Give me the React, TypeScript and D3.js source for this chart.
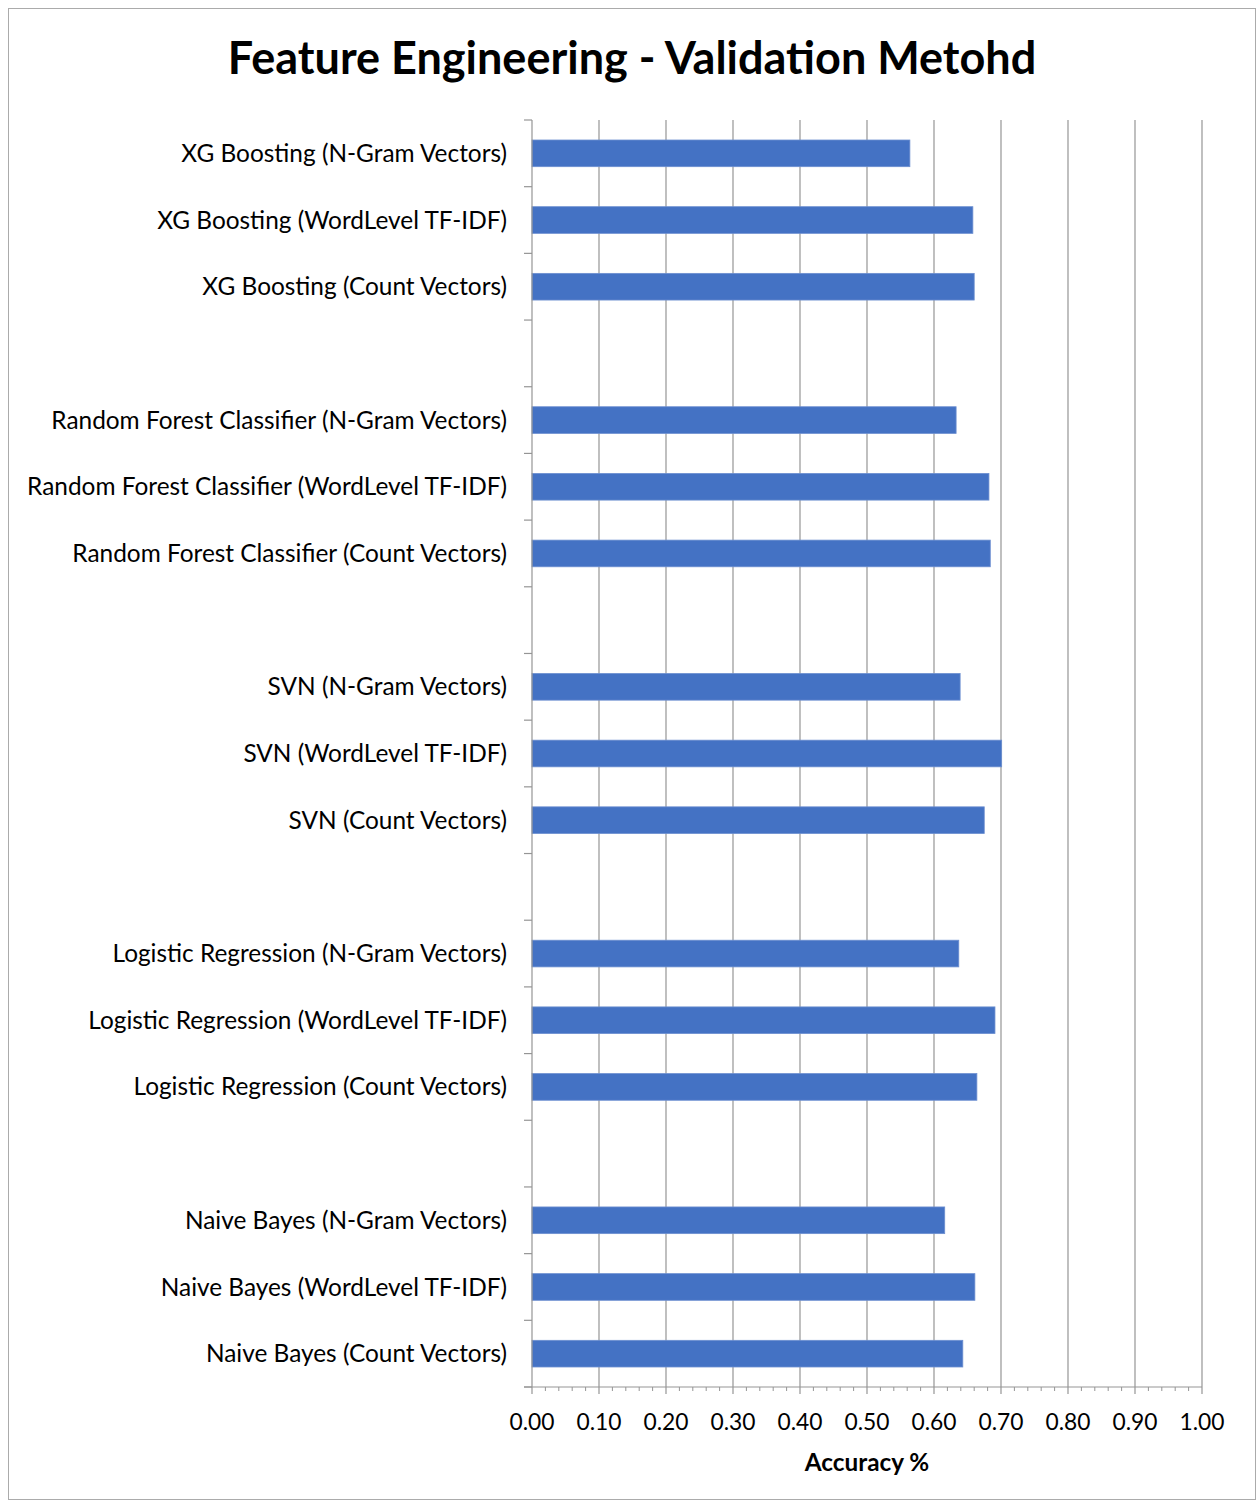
import React from 'react';
import * as d3 from 'd3';

// bars listed top to bottom; null = empty spacer slot between model groups
const labels = [
  'XG Boosting (N-Gram Vectors)',
  'XG Boosting (WordLevel TF-IDF)',
  'XG Boosting (Count Vectors)',
  null,
  'Random Forest Classifier (N-Gram Vectors)',
  'Random Forest Classifier (WordLevel TF-IDF)',
  'Random Forest Classifier (Count Vectors)',
  null,
  'SVN (N-Gram Vectors)',
  'SVN (WordLevel TF-IDF)',
  'SVN (Count Vectors)',
  null,
  'Logistic Regression (N-Gram Vectors)',
  'Logistic Regression (WordLevel TF-IDF)',
  'Logistic Regression (Count Vectors)',
  null,
  'Naive Bayes (N-Gram Vectors)',
  'Naive Bayes (WordLevel TF-IDF)',
  'Naive Bayes (Count Vectors)',
];
const values = [
  0.564, 0.658, 0.660, null,
  0.633, 0.682, 0.684, null,
  0.639, 0.701, 0.675, null,
  0.637, 0.691, 0.664, null,
  0.616, 0.661, 0.643,
];
const majorTicks = [0, 0.1, 0.2, 0.3, 0.4, 0.5, 0.6, 0.7, 0.8, 0.9, 1.0];

const W = 1258, H = 1501;
const left = 532, right = 1202, top = 120, bottom = 1387;
const FONT = 'Lato, "Liberation Sans", sans-serif';
const GRID = '#959595';

export default function App() {
  const keys = labels.map((l, i) => l ?? `gap${i}`);
  const x = d3.scaleLinear().domain([0, 1]).range([left, right]);
  const y = d3.scaleBand<string>().domain(keys).range([top, bottom]).paddingInner(0.6).paddingOuter(0.3);
  const step = y.step();
  const minorTicks = d3.range(0, 50).map(i => i / 50).filter(v => Math.round(v * 50) % 5 !== 0);

  return (
    <svg width={W} height={H} style={{ position: 'absolute', left: 0, top: 0, background: '#fff' }}>
      <rect x={8.5} y={8.5} width={1247} height={1491} fill="#fff" stroke="#ababab" strokeWidth={1} />
      <text x={632} y={74} textAnchor="middle" fontFamily={FONT} fontWeight={700} fontSize={45} fill="#000">
        Feature Engineering - Validation Metohd
      </text>

      {majorTicks.slice(1).map(t => (
        <line key={t} x1={x(t)} x2={x(t)} y1={top} y2={bottom} stroke={GRID} strokeWidth={1.2} />
      ))}

      {keys.map((k, i) => {
        const v = values[i];
        if (v == null) return null;
        return (
          <rect key={k} x={x(0)} y={y(k)} width={x(v) - x(0)} height={y.bandwidth()}
            fill="#4472C4" stroke="#6d8fd0" strokeWidth={0.8} />
        );
      })}

      {/* y axis */}
      <line x1={left} x2={left} y1={top} y2={bottom} stroke={GRID} strokeWidth={1.2} />
      {d3.range(keys.length + 1).map(i => (
        <line key={i} x1={left - 8} x2={left} y1={top + i * step} y2={top + i * step} stroke={GRID} strokeWidth={1.2} />
      ))}
      {keys.map((k, i) => labels[i] && (
        <text key={k} x={507} y={(y(k) ?? 0) + y.bandwidth() / 2} dy="0.35em" textAnchor="end"
          fontFamily={FONT} fontSize={24.4} fill="#000">{labels[i]}</text>
      ))}

      {/* x axis */}
      <line x1={left - 8} x2={right} y1={bottom} y2={bottom} stroke={GRID} strokeWidth={1.2} />
      {majorTicks.map(t => (
        <line key={t} x1={x(t)} x2={x(t)} y1={bottom} y2={bottom + 7} stroke={GRID} strokeWidth={1.2} />
      ))}
      {minorTicks.map(t => (
        <line key={t} x1={x(t)} x2={x(t)} y1={bottom} y2={bottom + 4} stroke={GRID} strokeWidth={1} />
      ))}
      {majorTicks.map(t => (
        <text key={t} x={x(t)} y={1430} textAnchor="middle" fontFamily={FONT} fontSize={22.8} fill="#000">
          {d3.format('.2f')(t)}
        </text>
      ))}
      <text x={867} y={1471} textAnchor="middle" fontFamily={FONT} fontWeight={700} fontSize={24.3} fill="#000">
        Accuracy %
      </text>
    </svg>
  );
}
